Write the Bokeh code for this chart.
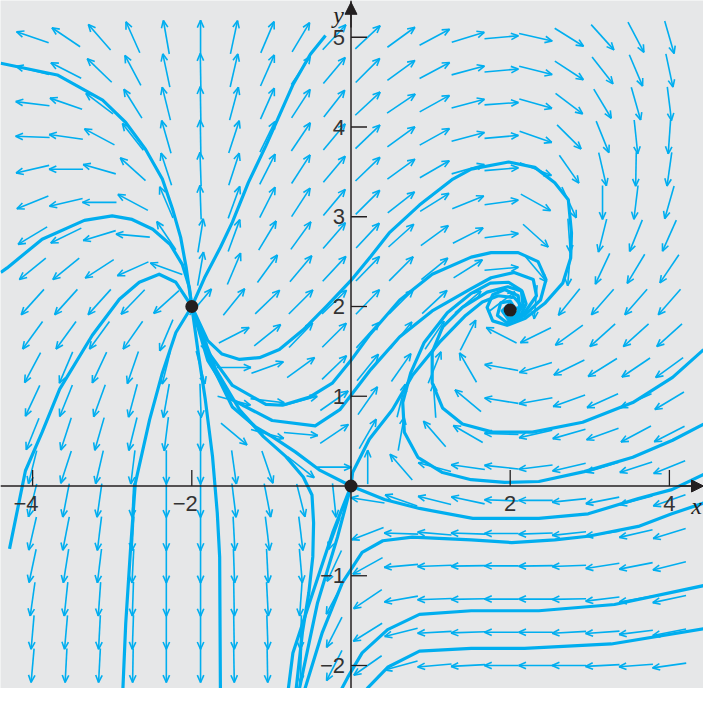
import numpy as np
from bokeh.plotting import figure
from bokeh.models import Range1d, Arrow, NormalHead
from bokeh.core.properties import value
from bokeh.embed import file_html
from bokeh.resources import INLINE

# ---- direction field: arrow centres and screen angles (deg) ----
grid_x = [-4.0, -3.58, -3.16, -2.74, -2.32, -1.89, -1.47, -1.05, -0.63, -0.21,
          0.21, 0.63, 1.05, 1.47, 1.89, 2.32, 2.74, 3.16, 3.58, 4.0]
grid_y = [5.0, 4.63, 4.26, 3.89, 3.53, 3.16, 2.79, 2.42, 2.05, 1.68,
          1.32, 0.95, 0.58, 0.21, -0.16, -0.53, -0.89, -1.26, -1.63, -2.0]
angles = [
    [161, 146, 131, 114, 100, 90, 78, 67, 59, 47, 43, 36, 28, 17, 5, -13, -32, -48, -62, -74],
    [166, 153, 136, 118, 102, 91, 77, 66, 56, 50, 45, 36, 28, 15, 5, -14, -33, -52, -67, -78],
    [173, 161, 143, 122, 104, 91, 75, 66, 57, 52, 43, 34, 29, 15, 4, -16, -37, -59, -74, -83],
    [178, 172, 152, 128, 106, 91, 72, 64, 56, 50, 44, 36, 29, 15, 5, -19, -45, -68, -84, -94],
    [193, 180, 164, 138, 108, 92, 72, 63, 57, 50, 44, 36, 30, 16, 5, -22, -55, -77, -91, -98],
    [202, 193, 180, 152, 113, 92, 70, 63, 57, 50, 45, 38, 32, 22, 8, -29, -65, -90, -97, -106],
    [211, 206, 197, 175, 124, 81, 70, 59, 54, 49, 47, 42, 36, 27, 7, -42, -86, -104, -112, -114],
    [219, 219, 213, 204, 160, 80, 67, 54, 50, 47, 46, 45, 39, 32, 5, -50, -95, -115, -121, -124],
    [228, 228, 228, 226, 222, 50, 51, 44, 45, 44, 46, 45, 43, 40, 37, -95, -129, -131, -131, -131],
    [234, 234, 234, 235, 247, 290, 27, 39, 46, 45, 48, 51, 56, 63, 153, 206, 216, 222, 222, 222],
    [242, 247, 245, 251, 256, 285, 0, 20, 36, 44, 51, 55, 68, 120, 170, 197, 206, 212, 214, 216],
    [245, 248, 250, 255, 260, 272, 345, 353, 15, 35, 55, 76, 94, 140, 171, 190, 200, 204, 204, 211],
    [248, 252, 254, 256, 263, 270, 320, 345, 355, 34, 60, 80, 131, 150, 178, 193, 196, 200, 208, 207],
    [256, 252, 257, 263, 270, 270, 278, 289, 322, 0, 90, 131, 165, 172, 174, 187, 193, 197, 198, 202],
    [256, 259, 262, 267, 270, 270, 277, 281, 284, 276, 171, 161, 166, 168, 178, 180, 186, 191, 195, 199],
    [257, 259, 263, 267, 270, 270, 273, 277, 277, 250, 201, 178, 175, 178, 180, 182, 186, 188, 193, 197],
    [258, 261, 263, 267, 270, 270, 272, 273, 275, 245, 209, 185, 182, 181, 180, 181, 182, 189, 191, 194],
    [262, 264, 266, 268, 270, 270, 271, 273, 266, 242, 214, 190, 182, 181, 180, 180, 181, 187, 190, 192],
    [265, 265, 267, 268, 270, 270, 271, 272, 268, 243, 212, 194, 183, 182, 180, 180, 183, 184, 187, 191],
    [265, 267, 267, 269, 270, 270, 271, 271, 268, 243, 215, 195, 185, 183, 180, 180, 180, 183, 184, 188],
]

# ---- trajectories (data coordinates) ----
traj = {
    "t1": ([-4.40, -3.69, -3.12, -2.83, -2.58, -2.37, -2.24, -2.14, -2.07, -2.0],
           [4.71, 4.58, 4.30, 4.05, 3.75, 3.42, 3.08, 2.77, 2.43, 2.0]),
    "t2": ([-2.0, -1.84, -1.64, -1.49, -1.29, -1.07, -0.73, -0.51, -0.32],
           [2.0, 2.32, 2.66, 2.94, 3.38, 3.79, 4.47, 4.81, 5.02]),
    "t3": ([-4.40, -4.32, -3.88, -3.35, -3.00, -2.75, -2.49, -2.27, -2.12, -2.03, -2.0],
           [2.38, 2.43, 2.75, 2.96, 3.01, 2.97, 2.86, 2.69, 2.47, 2.21, 2.0]),
    "t4": ([-4.29, -4.09, -3.88, -3.66, -3.25, -2.91, -2.66, -2.41, -2.20, -2.0],
           [-0.70, 0.17, 0.60, 1.08, 1.68, 2.08, 2.27, 2.36, 2.27, 2.0]),
    "t5": ([-2.87, -2.83, -2.77, -2.71, -2.53, -2.37, -2.20, -2.0],
           [-2.35, -1.53, -0.71, 0.03, 0.74, 1.26, 1.71, 2.0]),
    "t6": ([-2.0, -1.92, -1.83, -1.74, -1.68, -1.65, -1.64],
           [2.0, 1.49, 0.96, 0.33, -0.30, -0.79, -2.35]),
    "t7": ([-2.0, -1.70, -1.40, -1.10, -0.82, -0.60, -0.49, -0.47, -0.48, -0.53, -0.61, -0.70],
           [2.0, 1.30, 0.85, 0.55, 0.33, 0.10, -0.10, -0.41, -0.79, -1.19, -1.63, -2.35]),
    "a": ([-2.0, -1.80, -1.62, -1.40, -1.15, -0.90, -0.60, -0.30, 0.0, 0.25, 0.48, 0.86, 1.28, 1.51,
           1.98, 2.31, 2.56, 2.73, 2.77, 2.76, 2.66, 2.44, 2.19, 1.96, 1.78, 1.71, 1.78, 1.93, 2.10,
           2.12, 2.0],
          [2.0, 1.62, 1.47, 1.41, 1.43, 1.52, 1.74, 2.01, 2.29, 2.56, 2.82, 3.13, 3.42, 3.53,
           3.61, 3.55, 3.38, 3.19, 2.82, 2.54, 2.26, 2.04, 1.87, 1.79, 1.84, 1.99, 2.13, 2.19, 2.12,
           1.99, 1.96]),
    "b": ([-2.0, -1.80, -1.49, -1.07, -0.86, -0.52, -0.23, 0.0, 0.23, 0.61, 1.02, 1.51, 1.76, 2.10,
           2.35, 2.45, 2.38, 2.18, 1.96, 1.84, 1.88, 2.0, 2.06, 2.0],
          [2.0, 1.50, 1.12, 0.91, 0.90, 0.99, 1.15, 1.40, 1.68, 2.07, 2.36, 2.55, 2.60, 2.60,
           2.50, 2.30, 2.07, 1.90, 1.82, 1.90, 2.04, 2.06, 1.98, 1.96]),
    "c": ([-2.0, -1.80, -1.49, -0.99, -0.45, -0.14, 0.0, 0.25, 0.61, 1.02, 1.51, 1.76, 2.05, 2.29,
           2.33, 2.18, 1.98, 1.90, 1.98, 2.0],
          [2.0, 1.40, 0.96, 0.73, 0.67, 0.85, 1.01, 1.30, 1.66, 1.95, 2.20, 2.32, 2.38, 2.30,
           2.12, 1.93, 1.86, 1.95, 2.02, 1.96]),
    "d": ([-2.0, -1.75, -1.49, -1.20, -0.99, -0.70, -0.40, 0.0],
          [2.0, 1.35, 0.88, 0.66, 0.55, 0.38, 0.18, 0.0]),
    "u": ([0.0, 0.02, 0.23, 0.52, 0.77, 1.11, 1.44, 1.65, 1.85, 2.05, 2.15, 2.08, 2.0],
          [0.0, 0.15, 0.52, 0.85, 1.23, 1.60, 1.90, 2.05, 2.12, 2.10, 2.00, 1.90, 1.96]),
    "l1": ([4.43, 4.04, 3.54, 2.91, 2.28, 1.78, 1.40, 1.15, 1.02, 1.02, 1.15, 1.40, 1.71, 1.97, 2.15, 2.20,
            2.12, 1.98, 1.92, 2.0],
           [1.52, 1.21, 0.93, 0.71, 0.60, 0.60, 0.69, 0.87, 1.15, 1.49, 1.77, 1.99, 2.16, 2.22, 2.17, 2.03,
            1.88, 1.85, 1.93, 1.96]),
    "l2": ([4.43, 4.04, 3.54, 2.93, 2.36, 1.93, 1.51, 1.15, 0.84, 0.67, 0.65, 0.75, 0.92, 1.21, 1.50,
            1.75, 1.98, 2.14, 2.16, 2.06, 1.97, 2.0],
           [0.69, 0.51, 0.32, 0.16, 0.05, 0.04, 0.07, 0.15, 0.32, 0.60, 0.93, 1.26, 1.60, 1.93, 2.14,
            2.26, 2.27, 2.18, 2.02, 1.90, 1.91, 1.96]),
    "l3": ([0.0, 0.42, 0.86, 1.53, 2.36, 2.98, 3.61, 4.03, 4.43],
           [0.0, -0.15, -0.25, -0.36, -0.36, -0.31, -0.14, -0.04, 0.13]),
    "l4": ([4.43, 4.03, 3.61, 2.98, 2.56, 2.02, 1.51, 0.77, 0.40, 0.14, -0.11, -0.36, -0.61],
           [-0.19, -0.31, -0.45, -0.56, -0.60, -0.63, -0.60, -0.57, -0.61, -0.74, -1.08, -1.63, -2.35]),
    "l5": ([4.43, 3.31, 2.36, 1.51, 0.86, 0.46, 0.14, -0.04, -0.17],
           [-1.11, -1.32, -1.39, -1.39, -1.43, -1.60, -1.86, -2.13, -2.35]),
    "l6": ([4.43, 3.27, 2.18, 1.51, 0.86, 0.46, 0.21, 0.12],
           [-1.59, -1.76, -1.81, -1.81, -1.84, -2.02, -2.25, -2.35]),
    "dl1": ([0.0, -0.23, -0.48, -0.73, -0.80],
            [0.0, -0.52, -1.19, -1.86, -2.35]),
    "dl2": ([0.0, -0.17, -0.42, -0.67],
            [0.0, -0.57, -1.30, -2.35]),
}

crit_x = [-2.0, 0.0, 2.0]
crit_y = [2.0, 0.0, 1.96]

xtick_vals = [-4, -2, 2, 4]
xtick_text = ["\u22124", "\u22122", "2", "4"]
ytick_vals = [-2, -1, 1, 2, 3, 4, 5]
ytick_text = ["\u22122", "\u22121", "1", "2", "3", "4", "5"]

# ---- figure ----
W, H = 703, 688
SX, SY = 79.6, 89.75          # pixels per unit
X0, Y0 = 350.5, 485.5         # origin position inside figure (px)
x_start, x_end = -X0 / SX, (W - X0) / SX
y_end, y_start = Y0 / SY, -(H - Y0) / SY

p = figure(width=W, height=H, output_backend="svg", toolbar_location=None,
           x_range=Range1d(x_start, x_end), y_range=Range1d(y_start, y_end),
           min_border=0, background_fill_color="#e6e7e8", border_fill_color="#ffffff",
           outline_line_color=None)
p.axis.visible = False
p.grid.visible = False

CYAN = "#00aeef"

# arrows of the direction field
L = 34.0
HL = 8.0
HA = np.radians(24)
sx0, sy0, sx1, sy1 = [], [], [], []
hx0, hy0, hx1, hy1 = [], [], [], []
for j, yv in enumerate(grid_y):
    for i, xv in enumerate(grid_x):
        a = np.radians(angles[j][i])
        dx = 0.5 * L * np.cos(a) / SX
        dy = 0.5 * L * np.sin(a) / SY
        tx, ty = xv + dx, yv + dy
        sx0.append(xv - dx); sy0.append(yv - dy); sx1.append(tx); sy1.append(ty)
        for s in (1, -1):
            b = a + np.pi + s * HA
            hx0.append(tx); hy0.append(ty)
            hx1.append(tx + HL * np.cos(b) / SX); hy1.append(ty + HL * np.sin(b) / SY)

p.segment(sx0, sy0, sx1, sy1, line_color=CYAN, line_width=1.6)
p.segment(hx0, hy0, hx1, hy1, line_color=CYAN, line_width=1.6)

# trajectories
for k, (tx, ty) in traj.items():
    p.line(tx, ty, line_color=CYAN, line_width=3.2, line_join="round")

# axes
p.line([x_start, x_end], [0, 0], line_color="#231f20", line_width=1.5)
p.line([0, 0], [y_start, y_end], line_color="#231f20", line_width=1.5)
p.add_layout(Arrow(end=NormalHead(size=12, fill_color="#231f20", line_color="#231f20"),
                   x_start=x_end - 0.3, y_start=0, x_end=x_end, y_end=0,
                   line_color="#231f20", line_width=1.5))
p.add_layout(Arrow(end=NormalHead(size=12, fill_color="#231f20", line_color="#231f20"),
                   x_start=0, y_start=y_end - 0.3, x_end=0, y_end=y_end - 0.02,
                   line_color="#231f20", line_width=1.5))

# ticks
tl = 16.0
p.segment(xtick_vals, [0] * 4, xtick_vals, [tl / SY] * 4, line_color="#231f20", line_width=1.3)
p.segment([0] * 7, ytick_vals, [tl / SX] * 7, ytick_vals, line_color="#231f20", line_width=1.3)

p.text([v + (6 / SX if v < 0 else 0) for v in xtick_vals], [-10 / SY] * 4, text=xtick_text,
       text_align=["right", "right", "center", "center"], text_baseline="top",
       text_font=value("Liberation Sans"), text_font_size="22px", text_color="#333333")
p.text([-6 / SX] * 7, ytick_vals, text=ytick_text, text_align="right", text_baseline="middle",
       text_font=value("Liberation Sans"), text_font_size="22px", text_color="#333333")

p.text([x_end - 0.02], [-0.08], text=["x"], text_align="right", text_baseline="top",
       text_font=value("Liberation Serif"), text_font_style="italic", text_font_size="24px",
       text_color="#231f20")
p.text([-0.09], [y_end - 0.02], text=["y"], text_align="right", text_baseline="top",
       text_font=value("Liberation Serif"), text_font_style="italic", text_font_size="24px",
       text_color="#231f20")

p.scatter(crit_x, crit_y, size=13, fill_color="#231f20", line_color=None)

open("out.html", "w").write(file_html(p, INLINE))
